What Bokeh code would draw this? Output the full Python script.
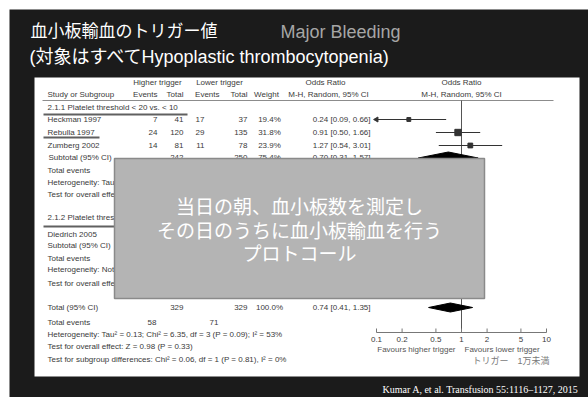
import math
from bokeh.plotting import figure
from bokeh.models import ColumnDataSource, Range1d, LogScale
from bokeh.core.properties import value
from bokeh.embed import file_html
from bokeh.resources import INLINE

# ---------------- data ----------------
studies = ["Heckman 1997", "Rebulla 1997", "Zumberg 2002"]
higher_events = [7, 24, 14]
higher_total = [41, 120, 81]
lower_events = [17, 29, 11]
lower_total = [37, 135, 78]
weights = [19.4, 31.8, 23.9]
odds_ratio = [0.24, 0.91, 1.27]
ci_low = [0.09, 0.50, 0.54]
ci_high = [0.66, 1.66, 3.01]

subtotal1_totals = [242, 250]
subtotal1_weight = 75.4
subtotal1_or = [0.31, 0.70, 1.57]      # low, estimate, high

overall_totals = [329, 329]
overall_events = [58, 71]
overall_weight = 100.0
overall_or = [0.41, 0.74, 1.35]        # low, estimate, high

tick_values = [0.1, 0.2, 0.5, 1, 2, 5, 10]
tick_labels = ["0.1", "0.2", "0.5", "1", "2", "5", "10"]

# ---------------- figure ----------------
SANS = "Liberation Sans, Noto Sans CJK JP"
CJK = "Noto Sans CJK JP"
SERIF = "Liberation Serif"
INK = "#3a3a3a"

W, H = 588, 397
p = figure(width=W, height=H, x_range=Range1d(0, W), y_range=Range1d(H, 0),
           output_backend="svg", toolbar_location=None, min_border=0,
           x_axis_location=None, y_axis_location=None)
p.grid.visible = False
p.outline_line_color = None
p.background_fill_color = "white"
p.border_fill_color = "white"

# log scale for odds ratios: OR=1 at x=461, one decade = 85 px
p.extra_x_ranges = {"or": Range1d(start=10 ** ((0 - 461) / 85), end=10 ** ((W - 461) / 85))}
p.extra_x_scales = {"or": LogScale()}


def txt(xs, ys, texts, size, color=INK, align="left", font=SANS, rng=None):
    src = ColumnDataSource(dict(x=list(xs), y=list(ys), t=[str(t) for t in texts]))
    kw = {"x_range_name": rng} if rng else {}
    p.text(x="x", y="y", text="t", source=src, text_font=value(font),
           text_font_size=f"{size}px", text_color=color, text_align=align,
           text_baseline="middle", **kw)


# slide background and white panel
p.quad(left=[9], right=[W], top=[9], bottom=[H], fill_color="#1b1b1b", line_color=None)
p.quad(left=[34], right=[579], top=[77], bottom=[376], fill_color="white", line_color=None)

# titles
txt([30], [31], ["血小板輸血のトリガー値"], 17, color="white")
txt([280], [31], ["Major Bleeding"], 18, color="#a6a6a6")
txt([29], [56], ["(対象はすべてHypoplastic thrombocytopenia)"], 18, color="white")
txt([578], [389], ["Kumar A, et al. Transfusion 55:1116\u20131127, 2015"], 10, color="white",
    align="right", font=SERIF)

# table headers
txt([157, 219, 325], [82, 82, 82], ["Higher trigger", "Lower trigger", "Odds Ratio"], 8, align="center")
txt([461], [82], ["Odds Ratio"], 8, align="center")
txt([47], [94], ["Study or Subgroup"], 8)
txt([157, 183, 219, 247], [94] * 4, ["Events", "Total", "Events", "Total"], 8, align="right")
txt([266, 328, 461], [94] * 3, ["Weight", "M-H, Random, 95% CI", "M-H, Random, 95% CI"], 8, align="center")
p.segment(x0=[42], x1=[553], y0=[100], y1=[100], line_color="#8c8c8c", line_width=1)

# subgroup 1
txt([47], [107], ["2.1.1 Platelet threshold < 20 vs. < 10"], 8)
rows = [119, 132, 145]
txt([47] * 3, rows, studies, 8)
txt([157] * 3, rows, higher_events, 8, align="right")
txt([183] * 3, rows, higher_total, 8, align="right")
txt([204] * 3, rows, lower_events, 8, align="right")
txt([247] * 3, rows, lower_total, 8, align="right")
txt([269] * 3, rows, [f"{w:.1f}%" for w in weights], 8, align="center")
txt([370] * 3, rows, [f"{o:.2f} [{l:.2f}, {h:.2f}]" for o, l, h in zip(odds_ratio, ci_low, ci_high)],
    8, align="right")

sub_y = 157
txt([48], [sub_y], ["Subtotal (95% CI)"], 8)
txt([183, 247], [sub_y, sub_y], subtotal1_totals, 8, align="right")
txt([269], [sub_y], [f"{subtotal1_weight:.1f}%"], 8, align="center")
txt([370], [sub_y], [f"{subtotal1_or[1]:.2f} [{subtotal1_or[0]:.2f}, {subtotal1_or[2]:.2f}]"], 8, align="right")
txt([47] * 3, [170, 182, 194], ["Total events",
                                 "Heterogeneity: Tau\u00b2 = 0.47; Chi\u00b2 = 6.29, df = 2 (P = 0.04); I\u00b2 = 68%",
                                 "Test for overall effect: Z = 0.96 (P = 0.34)"], 8)

# subgroup 2
txt([47] * 6, [217, 234, 245, 258, 269, 283],
    ["2.1.2 Platelet threshold", "Diedrich 2005", "Subtotal (95% CI)", "Total events",
     "Heterogeneity: Not applicable", "Test for overall effect"], 8)

# overall
txt([47], [307], ["Total (95% CI)"], 8)
txt([183, 247], [307, 307], overall_totals, 8, align="right")
txt([269], [307], [f"{overall_weight:.1f}%"], 8, align="center")
txt([370], [307], [f"{overall_or[1]:.2f} [{overall_or[0]:.2f}, {overall_or[2]:.2f}]"], 8, align="right")
txt([47], [322], ["Total events"], 8)
txt([156, 218], [322, 322], overall_events, 8, align="right")
txt([47] * 3, [334, 346, 359],
    ["Heterogeneity: Tau\u00b2 = 0.13; Chi\u00b2 = 6.35, df = 3 (P = 0.09); I\u00b2 = 53%",
     "Test for overall effect: Z = 0.98 (P = 0.33)",
     "Test for subgroup differences: Chi\u00b2 = 0.06, df = 1 (P = 0.81), I\u00b2 = 0%"], 8)

# slide highlight underlines
p.segment(x0=[43, 43, 43], x1=[187, 99, 120], y0=[114, 137, 226], y1=[114, 137, 226],
          line_color="#606060", line_width=2)

# ---------------- forest plot ----------------
axis_y = 332
p.segment(x0=[1], x1=[1], y0=[100], y1=[axis_y], x_range_name="or", line_color="#555555", line_width=1)

lo_clip = [max(l, tick_values[0]) for l in ci_low]
p.segment(x0=lo_clip, x1=ci_high, y0=rows, y1=rows, x_range_name="or", line_color="#333333", line_width=1)
p.scatter(x=odds_ratio, y=rows, size=[w * 0.2 for w in weights], marker="square",
          x_range_name="or", fill_color="#333333", line_color="#333333")
arrow_rows = [r for r, l in zip(rows, ci_low) if l < tick_values[0]]
p.scatter(x=[tick_values[0]] * len(arrow_rows), y=arrow_rows, marker="triangle", size=5,
          angle=math.pi / 2, x_range_name="or", fill_color="#333333", line_color="#333333")


def diamond(ci, yc, h):
    l, e, r = ci
    p.patch(x=[l, e, r, e], y=[yc, yc - h, yc, yc + h], x_range_name="or",
            fill_color="black", line_color="black")


diamond(subtotal1_or, 157.5, 6)
diamond(overall_or, 307, 4.5)

# OR axis
p.segment(x0=[tick_values[0]], x1=[tick_values[-1]], y0=[axis_y], y1=[axis_y],
          x_range_name="or", line_color="#777777", line_width=1)
p.segment(x0=tick_values, x1=tick_values, y0=[axis_y - 4] * len(tick_values),
          y1=[axis_y] * len(tick_values), x_range_name="or", line_color="#777777", line_width=1)
txt(tick_values, [339] * len(tick_values), tick_labels, 8, align="center", rng="or")
txt([455], [349], ["Favours higher trigger"], 8, align="right", color="#555555")
txt([464], [349], ["Favours lower trigger"], 8, color="#555555")
txt([472], [360], ["トリガー\u30001万未満"], 9, color="#7a7a7a")

# ---------------- overlay box ----------------
p.quad(left=[114], right=[484], top=[158], bottom=[298], fill_color="#b4b4b4",
       line_color="#8a8a8a", line_width=1.5)
txt([299, 299, 299], [205, 229, 252],
    ["当日の朝、血小板数を測定し", "その日のうちに血小板輸血を行う", "プロトコール"],
    19, color="white", align="center", font=CJK)

open("out.html", "w").write(file_html(p, INLINE))
